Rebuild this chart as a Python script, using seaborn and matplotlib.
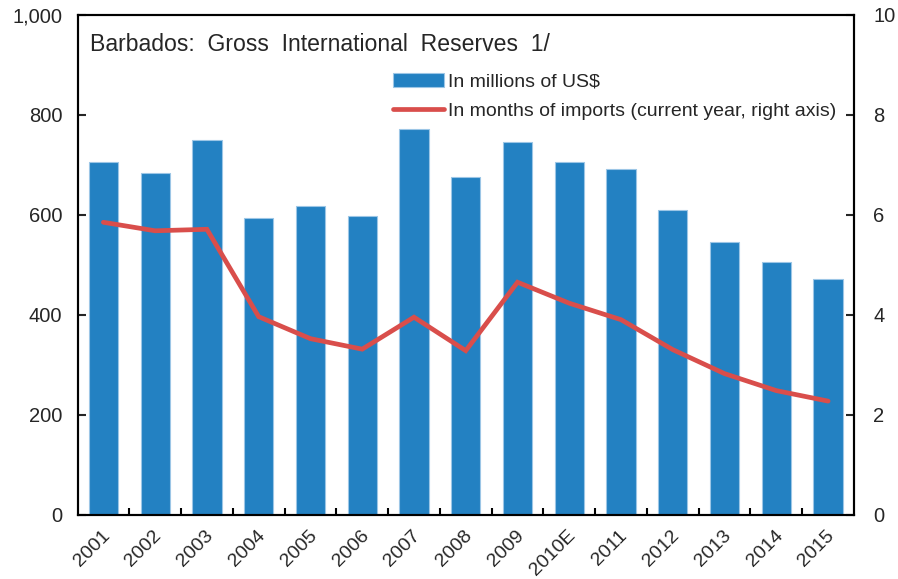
import matplotlib
matplotlib.use("Agg")
import matplotlib.pyplot as plt
from matplotlib.ticker import FixedLocator, FuncFormatter
from matplotlib.transforms import ScaledTranslation
import numpy as np
import pandas as pd
import seaborn as sns

years = ["2001", "2002", "2003", "2004", "2005", "2006", "2007", "2008",
         "2009", "2010E", "2011", "2012", "2013", "2014", "2015"]
reserves_musd = [705, 683, 750, 594, 617, 598, 772, 675,
                 746, 705, 691, 609, 546, 505, 471]
months_imports = [5.85, 5.68, 5.71, 3.96, 3.52, 3.31, 3.95, 3.28,
                  4.65, 4.23, 3.90, 3.30, 2.82, 2.48, 2.27]

title_text = "Barbados:  Gross  International  Reserves  1/"
bar_label = "In millions of US$"
line_label = "In months of imports (current year, right axis)"

BLUE = "#2381C2"
RED = "#D94E4B"

sns.set_style("ticks")
plt.rcParams["font.family"] = ["Liberation Sans", "DejaVu Sans"]

df = pd.DataFrame({"year": years, "reserves": reserves_musd, "months": months_imports})

fig = plt.figure(figsize=(8.98, 5.79), dpi=100)
W, H = 898, 579
left, right, top, bottom = 77.5, 854, 15, 514.5
ax = fig.add_axes([left / W, 1 - bottom / H, (right - left) / W, (bottom - top) / H])

sns.barplot(data=df, x="year", y="reserves", color=BLUE, saturation=1,
            width=0.566, edgecolor="#9CC6E6", linewidth=0.8, ax=ax,
            label=bar_label)

ax2 = ax.twinx()
sns.lineplot(data=df, x="year", y="months", color=RED, linewidth=3.4,
             sort=False, ax=ax2, label=line_label,
             solid_capstyle="round", solid_joinstyle="miter")

n = len(years)
ax.set_xlim(-0.5, n - 0.5)
ax.set_ylim(0, 1000)
ax2.set_ylim(0, 10)
ax.set_yticks(np.arange(0, 1001, 200))
ax.yaxis.set_major_formatter(FuncFormatter(lambda v, p: f"{int(v):,}"))
ax2.set_yticks(np.arange(0, 11, 2))

ax.set_xticks(range(n))
ax.set_xticklabels(years, rotation=45, ha="right", rotation_mode="anchor")
ax.xaxis.set_minor_locator(FixedLocator(np.arange(0.5, n - 1, 1.0)))
ax.tick_params(axis="x", which="major", length=0, pad=9, labelsize=14)
ax.tick_params(axis="x", which="minor", direction="in", length=5, width=1.5,
               color="black")
ax.tick_params(axis="y", direction="in", length=6, width=1.5, pad=11,
               labelsize=14.5)
ax2.tick_params(axis="y", direction="in", length=6, width=1.5, pad=14,
                labelsize=14.5)

# nudge the slanted year labels a touch left so they sit under each bar
shift = ScaledTranslation(-1.5 / 72, 0, fig.dpi_scale_trans)
for lbl in ax.get_xticklabels():
    lbl.set_transform(lbl.get_transform() + shift)

ax.set_xlabel("")
ax.set_ylabel("")
ax2.set_ylabel("")
ax2.set_xlabel("")

for a in (ax, ax2):
    for s in a.spines.values():
        s.set_visible(True)
        s.set_linewidth(1.5)
        s.set_color("black")

ax.text(0.016, 0.94, title_text, transform=ax.transAxes, fontsize=16.6,
        ha="left", va="center")

handles1, labels1 = ax.get_legend_handles_labels()
handles2, labels2 = ax2.get_legend_handles_labels()
if ax.get_legend():
    ax.get_legend().remove()
if ax2.get_legend():
    ax2.get_legend().remove()
leg = fig.legend(handles1 + handles2, labels1 + labels2, loc="upper left",
                 bbox_to_anchor=(393 / W, 1 - 73 / H), frameon=False,
                 fontsize=14, borderpad=0, handlelength=2.6,
                 handletextpad=0.25, labelspacing=0.62, borderaxespad=0)

fig.savefig("out.png", dpi=100)
